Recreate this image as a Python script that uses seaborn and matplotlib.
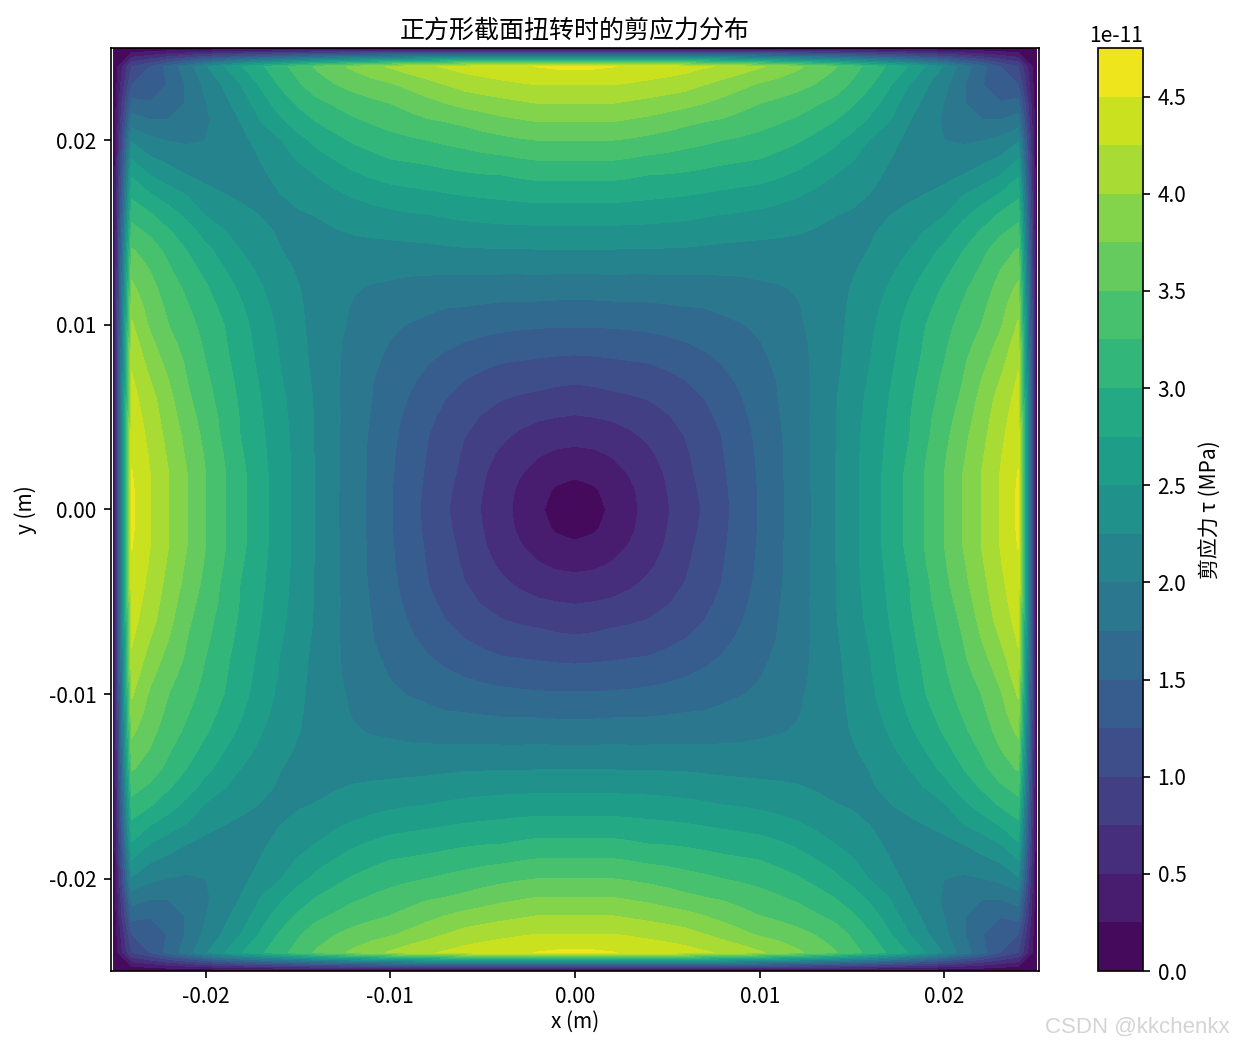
import numpy as np
import matplotlib
matplotlib.use("Agg")
import matplotlib.pyplot as plt
import seaborn as sns

# Grid coordinates of one quadrant (mm from the section centre)
grid_mm = list(range(26))

row_y00 = [0, .15, .30, .44, .585, .73, .88, 1.03, 1.19, 1.35, 1.52, 1.69, 1.86, 2.04, 2.23, 2.42, 2.62, 2.83, 3.04, 3.27, 3.50, 3.75, 4.00, 4.25, 4.55, 0]
row_y01 = [.15, .21, .34, .46, .60, .75, .90, 1.05, 1.20, 1.36, 1.52, 1.69, 1.86, 2.04, 2.23, 2.42, 2.62, 2.83, 3.04, 3.27, 3.50, 3.75, 4.00, 4.25, 4.54, 0]
row_y02 = [.30, .34, .42, .52, .64, .78, .94, 1.08, 1.22, 1.37, 1.53, 1.70, 1.87, 2.05, 2.23, 2.42, 2.62, 2.83, 3.04, 3.27, 3.50, 3.75, 4.00, 4.25, 4.51, 0]
row_y03 = [.44, .46, .52, .60, .71, .83, .97, 1.10, 1.24, 1.39, 1.54, 1.70, 1.87, 2.04, 2.225, 2.42, 2.61, 2.81, 3.01, 3.24, 3.47, 3.71, 3.96, 4.22, 4.47, 0]
row_y04 = [.585, .60, .64, .71, .80, .90, 1.01, 1.13, 1.26, 1.41, 1.56, 1.71, 1.875, 2.04, 2.22, 2.41, 2.60, 2.79, 2.97, 3.20, 3.43, 3.67, 3.92, 4.18, 4.43, 0]
row_y05 = [.73, .75, .78, .83, .90, .98, 1.07, 1.18, 1.31, 1.44, 1.59, 1.73, 1.88, 2.05, 2.22, 2.40, 2.58, 2.77, 2.96, 3.18, 3.39, 3.61, 3.87, 4.14, 4.39, 0]
row_y06 = [.88, .90, .94, .97, 1.01, 1.07, 1.15, 1.25, 1.37, 1.49, 1.62, 1.75, 1.88, 2.04, 2.215, 2.39, 2.56, 2.75, 2.94, 3.14, 3.34, 3.55, 3.82, 4.09, 4.34, 0]
row_y07 = [1.03, 1.05, 1.08, 1.10, 1.13, 1.18, 1.25, 1.33, 1.44, 1.54, 1.65, 1.76, 1.89, 2.04, 2.20, 2.36, 2.53, 2.72, 2.91, 3.10, 3.30, 3.50, 3.75, 4.00, 4.28, 0]
row_y08 = [1.19, 1.20, 1.22, 1.24, 1.26, 1.31, 1.37, 1.44, 1.515, 1.60, 1.69, 1.80, 1.91, 2.04, 2.18, 2.34, 2.50, 2.69, 2.875, 3.06, 3.25, 3.46, 3.67, 3.90, 4.22, 0]
row_y09 = [1.35, 1.36, 1.37, 1.39, 1.41, 1.44, 1.49, 1.54, 1.60, 1.66, 1.74, 1.83, 1.93, 2.04, 2.175, 2.32, 2.48, 2.66, 2.85, 3.03, 3.21, 3.40, 3.58, 3.81, 4.13, 0]
row_y10 = [1.52, 1.52, 1.53, 1.54, 1.56, 1.59, 1.62, 1.65, 1.69, 1.74, 1.79, 1.87, 1.956, 2.06, 2.17, 2.30, 2.45, 2.63, 2.82, 3.00, 3.17, 3.33, 3.50, 3.71, 4.03, 0]
row_y11 = [1.69, 1.69, 1.70, 1.70, 1.71, 1.73, 1.75, 1.76, 1.80, 1.83, 1.87, 1.92, 1.98, 2.07, 2.175, 2.28, 2.41, 2.58, 2.76, 2.93, 3.11, 3.27, 3.44, 3.65, 3.92, 0]
row_y12 = [1.86, 1.86, 1.87, 1.87, 1.875, 1.88, 1.88, 1.89, 1.91, 1.93, 1.956, 1.98, 2.02, 2.09, 2.18, 2.26, 2.36, 2.52, 2.69, 2.86, 3.03, 3.20, 3.37, 3.58, 3.80, 0]
row_y13 = [2.04, 2.04, 2.05, 2.04, 2.04, 2.05, 2.04, 2.04, 2.04, 2.04, 2.06, 2.07, 2.09, 2.12, 2.17, 2.23, 2.31, 2.44, 2.60, 2.76, 2.93, 3.10, 3.28, 3.49, 3.67, 0]
row_y14 = [2.23, 2.23, 2.23, 2.225, 2.22, 2.22, 2.215, 2.20, 2.18, 2.175, 2.17, 2.175, 2.18, 2.17, 2.16, 2.20, 2.26, 2.36, 2.49, 2.65, 2.82, 3.00, 3.18, 3.39, 3.53, 0]
row_y15 = [2.42, 2.42, 2.42, 2.42, 2.41, 2.40, 2.39, 2.36, 2.34, 2.32, 2.30, 2.28, 2.26, 2.23, 2.20, 2.21, 2.23, 2.30, 2.39, 2.52, 2.66, 2.87, 3.03, 3.21, 3.35, 0]
row_y16 = [2.62, 2.62, 2.62, 2.61, 2.60, 2.58, 2.56, 2.53, 2.50, 2.48, 2.45, 2.41, 2.36, 2.31, 2.26, 2.23, 2.21, 2.24, 2.30, 2.38, 2.48, 2.68, 2.86, 3.02, 3.16, 0]
row_y17 = [2.83, 2.83, 2.83, 2.81, 2.79, 2.77, 2.75, 2.72, 2.69, 2.66, 2.63, 2.58, 2.52, 2.44, 2.36, 2.30, 2.24, 2.22, 2.21, 2.26, 2.33, 2.50, 2.63, 2.78, 2.96, 0]
row_y18 = [3.04, 3.04, 3.04, 3.01, 2.97, 2.96, 2.94, 2.91, 2.875, 2.85, 2.82, 2.76, 2.69, 2.60, 2.49, 2.39, 2.30, 2.21, 2.15, 2.16, 2.20, 2.27, 2.39, 2.52, 2.75, 0]
row_y19 = [3.27, 3.27, 3.27, 3.24, 3.20, 3.18, 3.14, 3.10, 3.06, 3.03, 3.00, 2.93, 2.86, 2.76, 2.65, 2.52, 2.38, 2.26, 2.16, 2.10, 2.08, 2.10, 2.18, 2.28, 2.49, 0]
row_y20 = [3.50, 3.50, 3.50, 3.47, 3.43, 3.39, 3.34, 3.30, 3.25, 3.21, 3.17, 3.11, 3.03, 2.93, 2.82, 2.66, 2.48, 2.33, 2.20, 2.08, 2.00, 1.97, 1.99, 2.06, 2.22, 0]
row_y21 = [3.75, 3.75, 3.75, 3.71, 3.67, 3.61, 3.55, 3.50, 3.46, 3.40, 3.33, 3.27, 3.20, 3.10, 3.00, 2.87, 2.68, 2.50, 2.27, 2.10, 1.97, 1.83, 1.77, 1.78, 1.88, 0]
row_y22 = [4.00, 4.00, 4.00, 3.96, 3.92, 3.87, 3.82, 3.75, 3.67, 3.58, 3.50, 3.44, 3.37, 3.28, 3.18, 3.03, 2.86, 2.63, 2.39, 2.18, 1.99, 1.77, 1.64, 1.52, 1.60, 0]
row_y23 = [4.25, 4.25, 4.25, 4.22, 4.18, 4.14, 4.09, 4.00, 3.90, 3.81, 3.71, 3.65, 3.58, 3.49, 3.39, 3.21, 3.02, 2.78, 2.52, 2.28, 2.06, 1.78, 1.52, 1.35, 1.25, 0]
row_y24 = [4.55, 4.54, 4.51, 4.47, 4.43, 4.39, 4.34, 4.28, 4.22, 4.13, 4.03, 3.92, 3.80, 3.67, 3.53, 3.35, 3.16, 2.96, 2.75, 2.49, 2.22, 1.88, 1.60, 1.25, 1.00, 0]
row_y25 = [0] * 26

axis_ticks = [-0.02, -0.01, 0.00, 0.01, 0.02]
cbar_ticks = [0.0, 0.5, 1.0, 1.5, 2.0, 2.5, 3.0, 3.5, 4.0, 4.5]
n_bands = 19
band_step = 0.25

# Style
sns.set_style("ticks", rc={
    "axes.edgecolor": "black",
    "text.color": "black",
    "axes.labelcolor": "black",
    "xtick.color": "black",
    "ytick.color": "black",
})
plt.rcParams["font.family"] = ["Noto Sans CJK SC", "DejaVu Sans"]
plt.rcParams["axes.unicode_minus"] = False
plt.rcParams["font.size"] = 10

# Mirror the quadrant into the full section
quadrant = np.array([row_y00, row_y01, row_y02, row_y03, row_y04, row_y05, row_y06, row_y07, row_y08,
                     row_y09, row_y10, row_y11, row_y12, row_y13, row_y14, row_y15, row_y16, row_y17,
                     row_y18, row_y19, row_y20, row_y21, row_y22, row_y23, row_y24, row_y25])
half = np.concatenate([quadrant[:, :0:-1], quadrant], axis=1)
tau = np.concatenate([half[:0:-1, :], half], axis=0) * 1e-11
g = np.array(grid_mm) / 1000
coords = np.concatenate([-g[:0:-1], g])
X, Y = np.meshgrid(coords, coords)

W, H = 1233, 1046
fig = plt.figure(figsize=(W / 150, H / 150), dpi=150)
ax = fig.add_axes([111 / W, 1 - 971 / H, 928 / W, 923 / H])
cax = fig.add_axes([1098 / W, 1 - 971 / H, 45 / W, 923 / H])

levels = np.arange(n_bands + 1) * band_step * 1e-11
cs = ax.contourf(X, Y, tau, levels=levels, cmap=sns.color_palette("viridis", as_cmap=True))
ax.set_xlim(-0.02512, 0.02512)
ax.set_ylim(-0.025, 0.025)
ax.set_xticks(axis_ticks)
ax.set_yticks(axis_ticks)
ax.set_title("正方形截面扭转时的剪应力分布", fontsize=12, pad=5)
ax.set_xlabel("x (m)", labelpad=1.5)
ax.set_ylabel("y (m)", labelpad=5.5)

cbar = fig.colorbar(cs, cax=cax)
cbar.set_ticks([t * 1e-11 for t in cbar_ticks])
cbar.set_label("剪应力 τ (MPa)", labelpad=6.5)

fig.text(1230 / W, 1 - 1027 / H, "CSDN @kkchenkx", color="#d4d4d4", fontsize=10.7,
         family="Liberation Sans", ha="right", va="center")

fig.savefig("out.png", dpi=150)
